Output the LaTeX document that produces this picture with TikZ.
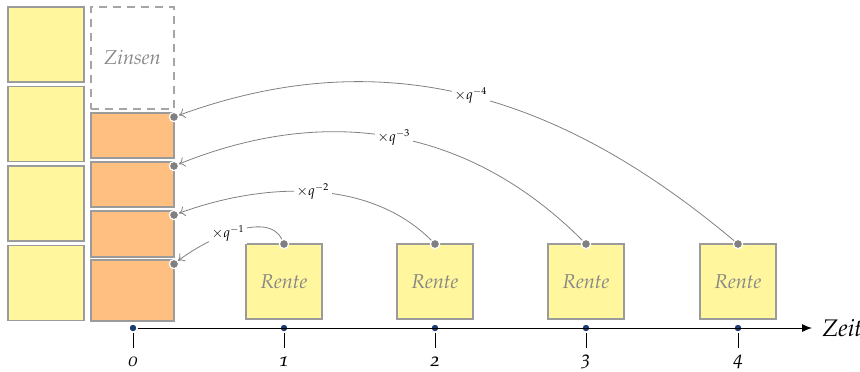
\documentclass[tikz,border=0pt]{standalone}
\usepackage[T1]{fontenc}
\usepackage[osf]{mathpazo}
\usetikzlibrary{arrows.meta}
\definecolor{yel}{RGB}{255,246,158}
\definecolor{ora}{RGB}{255,191,128}
\definecolor{bd}{RGB}{155,155,155}
\definecolor{txtgray}{RGB}{135,135,135}
\definecolor{tickblue}{RGB}{30,60,115}
\tikzset{
 box/.style={draw=bd, line width=0.6pt, inner sep=0pt, outer sep=0pt, anchor=north west},
 ybox/.style={box, fill=yel, minimum width=38pt, minimum height=37.5pt},
 obox/.style={box, fill=ora, minimum width=41.5pt},
 zbox/.style={box, draw=bd!90, dashed, dash pattern=on 4pt off 3pt, minimum width=41.5pt, minimum height=51pt, font=\itshape, text=txtgray},
 rbox/.style={box, fill=yel, minimum width=38pt, minimum height=37.5pt, font=\itshape, text=txtgray},
 gdot/.style={circle, fill=gray, draw=white, line width=0.6pt, inner sep=0pt, minimum size=4.6pt},
 bdot/.style={circle, fill=tickblue, draw=white, line width=0.6pt, inner sep=0pt, minimum size=4pt},
 conn/.style={draw=gray, line width=0.4pt, -{To[length=3pt,width=5pt]}},
 lab/.style={fill=white, inner sep=1.2pt, font=\scriptsize},
 tick/.style={line width=0.5pt},
 ticklab/.style={font=\itshape}
}
\begin{document}
\begin{tikzpicture}[x=0.5pt,y=-0.5pt]
\useasboundingbox (0,0) rectangle (860,371);
% yellow column
\node[ybox] (y1) at (8,7) {};
\node[ybox] (y2) at (8,86.5) {};
\node[ybox] (y3) at (8,166) {};
\node[ybox] (y4) at (8,245.5) {};
% Zinsen + orange column
\node[zbox] (z) at (91,7) {Zinsen};
\node[obox, minimum height=22.5pt] (o1) at (91,113) {};
\node[obox, minimum height=22.5pt] (o2) at (91,162) {};
\node[obox, minimum height=23pt] (o3) at (91,211) {};
\node[obox, minimum height=30.5pt] (o4) at (91,260) {};
% Rente boxes
\node[rbox] (r1) at (246,244) {Rente};
\node[rbox] (r2) at (397,244) {Rente};
\node[rbox] (r3) at (548,244) {Rente};
\node[rbox] (r4) at (700,244) {Rente};
% dots
\node[gdot] (od1) at (174,117) {};
\node[gdot] (od2) at (174,166) {};
\node[gdot] (od3) at (174,215) {};
\node[gdot] (od4) at (174,264) {};
\node[gdot] (rd1) at (r1.north) {};
\node[gdot] (rd2) at (r2.north) {};
\node[gdot] (rd3) at (r3.north) {};
\node[gdot] (rd4) at (r4.north) {};
% connectors
\draw[conn] (rd1) to[out=115,in=38,looseness=0.8] node[lab,pos=0.55]{$\times q^{-1}$} (od4);
\draw[conn] (rd2) to[out=135,in=20,looseness=0.9] node[lab,pos=0.5]{$\times q^{-2}$} (od3);
\draw[conn] (rd3) to[out=135,in=22] node[lab,pos=0.5]{$\times q^{-3}$} (od2);
\draw[conn] (rd4) to[out=140,in=20] node[lab,pos=0.5]{$\times q^{-4}$} (od1);
% axis
\coordinate (aend) at (812,328);
\node[bdot] (t0) at (133,328) {};
\node[bdot] (t1) at (284,328) {};
\node[bdot] (t2) at (435,328) {};
\node[bdot] (t3) at (586,328) {};
\node[bdot] (t4) at (738,328) {};
\draw[line width=0.5pt, -{Latex[length=5pt,width=4pt]}] (t0) -- (aend);
\node[font=\itshape\large, anchor=west, inner sep=1pt] (zeit) at (820,328) {Zeit};
\foreach \i in {0,...,4}{
  \coordinate (a\i) at ([yshift=-2.5pt]t\i.center);
  \coordinate (b\i) at ([yshift=-10pt]t\i.center);
  \draw[tick] (a\i) -- (b\i);
  \node[ticklab] (n\i) at ([yshift=-17pt]t\i.center) {\i};
}
\end{tikzpicture}
\end{document}
